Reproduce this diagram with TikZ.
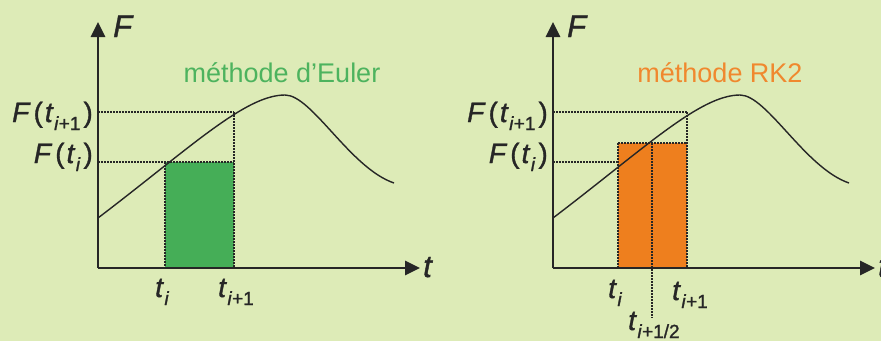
\documentclass[tikz,border=0pt]{standalone}
\usepackage{fontspec}
\setmainfont{Liberation Sans}
\newfontfamily\lblfont{Liberation Sans}[FakeBold=1.2]
\usetikzlibrary{arrows.meta}
\definecolor{bgc}{HTML}{DDEBB7}
\definecolor{eulerg}{HTML}{45AE57}
\definecolor{eulert}{HTML}{4DB35E}
\definecolor{rko}{HTML}{EE7F1E}
\definecolor{rkt}{HTML}{F0882E}
\definecolor{ink}{HTML}{262626}
\newcommand{\subx}[1]{\kern0.5pt\raisebox{-8pt}{\fontsize{19}{19}\selectfont #1}}
\newcommand{\Fof}[1]{\textit{F}\kern3pt(\kern2pt\textit{t}\subx{#1}\kern3pt)}
\newcommand{\tsub}[1]{\textit{t}\subx{#1}}
\tikzset{
  axis/.style={draw=ink, line width=2.8pt, -{Triangle[length=15pt,width=14pt]}},
  curve/.style={draw=ink, line width=1.4pt},
  dotline/.style={draw=ink, line width=1.6pt, dash pattern=on 1.6pt off 1.4pt},
  lbl/.style={inner sep=0pt, font=\lblfont\fontsize{28}{28}\selectfont, text=ink},
  axlbl/.style={inner sep=0pt, font=\lblfont\fontsize{31}{31}\selectfont\itshape, text=ink},
  ttl/.style={inner sep=0pt, font=\fontsize{27}{27}\selectfont},
}
\begin{document}
\begin{tikzpicture}[x=1pt,y=-1pt]
\fill[bgc] (0,0) rectangle (881,341);
\useasboundingbox (0,0) rectangle (881,341);
% ---------- left panel : Euler ----------
\coordinate (O1) at (98,268);
\coordinate (Y1) at (98,22);
\coordinate (X1) at (420,268);
\coordinate (A1) at (98,112);
\coordinate (B1) at (98,162);
\coordinate (P1) at (165,162);
\coordinate (Q1) at (234,112);
\coordinate (P1b) at (165,268);
\coordinate (Q1b) at (234,268);
\coordinate (Q1m) at (234,162);
\fill[eulerg] (P1) rectangle (Q1b);
\draw[dotline] (A1) -- (Q1);
\draw[dotline] (B1) -- (Q1m);
\draw[dotline] (Q1) -- (Q1b);
\draw[dotline] (P1) -- (P1b);
\coordinate (S1) at (98,218);
\coordinate (M1) at (285,95);
\coordinate (E1) at (394,183);
\draw[curve] (S1) .. controls (190,148) and (245,95) .. (M1)
  .. controls (312,95) and (350,168) .. (E1);
\draw[axis] (O1) -- (Y1);
\draw[axis] (O1) -- (X1);
\node[axlbl, anchor=base west] (F1) at (113,37) {F};
\node[axlbl, anchor=base west] (T1) at (423,277) {t};
\node[lbl, anchor=base east] (Fa1) at (93,122) {\Fof{\textit{i}+1}};
\node[lbl, anchor=base east] (Fb1) at (93,163) {\Fof{\textit{i}}};
\node[lbl, anchor=base west] (ta1) at (155,297) {\tsub{\textit{i}}};
\node[lbl, anchor=base west] (tb1) at (218,297) {\tsub{\textit{i}+1}};
\node[ttl, text=eulert, anchor=base] (title1) at (282,82) {méthode d’Euler};
% ---------- right panel : RK2 ----------
\coordinate (O2) at (553,268);
\coordinate (Y2) at (553,22);
\coordinate (X2) at (875,268);
\coordinate (A2) at (553,112);
\coordinate (B2) at (553,162);
\coordinate (R2a) at (618,143);
\coordinate (R2b) at (687,268);
\coordinate (R2c) at (618,268);
\coordinate (R2d) at (687,143);
\coordinate (Q2) at (687,112);
\coordinate (B2e) at (618,162);
\coordinate (H2t) at (652,143);
\coordinate (H2b) at (652,318);
\fill[rko] (R2a) rectangle (R2b);
\draw[dotline] (A2) -- (Q2);
\draw[dotline] (B2) -- (B2e);
\draw[dotline] (R2a) -- (R2d);
\draw[dotline] (R2a) -- (R2c);
\draw[dotline] (Q2) -- (R2b);
\draw[dotline] (H2t) -- (H2b);
\coordinate (S2) at (553,218);
\coordinate (M2) at (740,95);
\coordinate (E2) at (849,183);
\draw[curve] (S2) .. controls (645,148) and (700,95) .. (M2)
  .. controls (767,95) and (805,168) .. (E2);
\draw[axis] (O2) -- (Y2);
\draw[axis] (O2) -- (X2);
\node[axlbl, anchor=base west] (F2) at (567,37) {F};
\node[axlbl, anchor=base west] (T2) at (878,277) {t};
\node[lbl, anchor=base east] (Fa2) at (548,122) {\Fof{\textit{i}+1}};
\node[lbl, anchor=base east] (Fb2) at (548,163) {\Fof{\textit{i}}};
\node[lbl, anchor=base west] (ta2) at (608,298) {\tsub{\textit{i}}};
\node[lbl, anchor=base west] (tb2) at (672,300) {\tsub{\textit{i}+1}};
\node[lbl, anchor=base west] (tc2) at (628,330) {\tsub{\textit{i}+1/2}};
\node[ttl, text=rkt, anchor=base] (title2) at (720,82) {méthode RK2};
\end{tikzpicture}
\end{document}
